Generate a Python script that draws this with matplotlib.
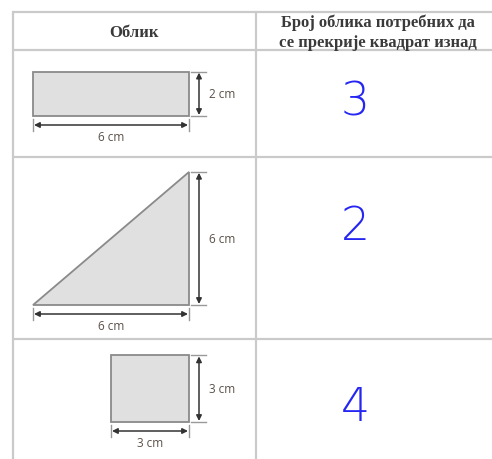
import matplotlib.pyplot as plt
from matplotlib.patches import Polygon, FancyArrowPatch

# table content
header_left = "Облик"
header_right = ["Број облика потребних да", "се прекрије квадрат изнад"]
shape_kinds = ["rect", "tri", "square"]
widths_cm = [6, 6, 3]
heights_cm = [2, 6, 3]
answers = ["3", "2", "4"]

# layout (pixels)
W, H = 492, 460
px_x, px_y = 26.0, 22.2          # drawing scale, px per cm
right_x = 189
shape_bottoms = [117, 306, 423]
row_lines = [13, 51, 158, 340]
answer_y = [103, 227, 408]
col_left, col_mid = 13, 256
line_col = "#cacaca"
dim_col = "#5a5048"

fig = plt.figure(figsize=(W / 100, H / 100), dpi=100)
ax = fig.add_axes([0, 0, 1, 1])
ax.set_xlim(0, W)
ax.set_ylim(H, 0)
ax.axis("off")

# grid
for y in row_lines:
    ax.plot([col_left, W], [y, y], color=line_col, lw=1.6, solid_capstyle="butt")
for x in [col_left, col_mid]:
    ax.plot([x, x], [row_lines[0], H], color=line_col, lw=1.6)

hdr = dict(ha="center", va="center", fontsize=12, fontweight="bold",
           family="Liberation Serif", color="#3a3a3a")
ax.text(134, 33, header_left, **hdr)
ax.text(378, 23, header_right[0], **hdr)
ax.text(378, 43, header_right[1], **hdr)


def arrow(p0, p1):
    ax.add_patch(FancyArrowPatch(p0, p1, arrowstyle="<|-|>", mutation_scale=8,
                                 color="#333333", lw=1.1, shrinkA=0, shrinkB=0))


for kind, wc, hc, yb, ans, ay in zip(shape_kinds, widths_cm, heights_cm,
                                      shape_bottoms, answers, answer_y):
    w = wc * px_x
    h = hc * px_y
    x0 = right_x - w
    if kind == "tri":
        pts = [(x0, yb), (right_x, yb), (right_x, yb - h)]
    else:
        pts = [(x0, yb), (right_x, yb), (right_x, yb - h), (x0, yb - h)]
    ax.add_patch(Polygon(pts, closed=True, facecolor="#e0e0e0",
                         edgecolor="#8a8a8a", lw=1.3))

    # vertical dimension
    vx = right_x + 10
    ax.plot([right_x + 2, right_x + 17], [yb - h, yb - h], color="#999999", lw=1.0)
    ax.plot([right_x + 2, right_x + 17], [yb, yb], color="#999999", lw=1.0)
    arrow((vx, yb - h + 1), (vx, yb - 1))
    ax.text(right_x + 20, yb - h / 2, f"{hc} cm", ha="left", va="center",
            fontsize=8.5, family="Open Sans", color=dim_col)

    # horizontal dimension
    hy = yb + 9
    ax.plot([x0, x0], [yb + 3, yb + 15], color="#999999", lw=1.0)
    ax.plot([right_x, right_x], [yb + 3, yb + 15], color="#999999", lw=1.0)
    arrow((x0 + 1, hy), (right_x - 1, hy))
    ax.text((x0 + right_x) / 2, hy + 12, f"{wc} cm", ha="center", va="center",
            fontsize=8.5, family="Open Sans", color=dim_col)

    # handwritten answer
    ax.text(355, ay, ans, ha="center", va="center", fontsize=33,
            family="DejaVu Sans", fontweight="ultralight", color="#2626f2")

fig.savefig("out.png", dpi=100)
